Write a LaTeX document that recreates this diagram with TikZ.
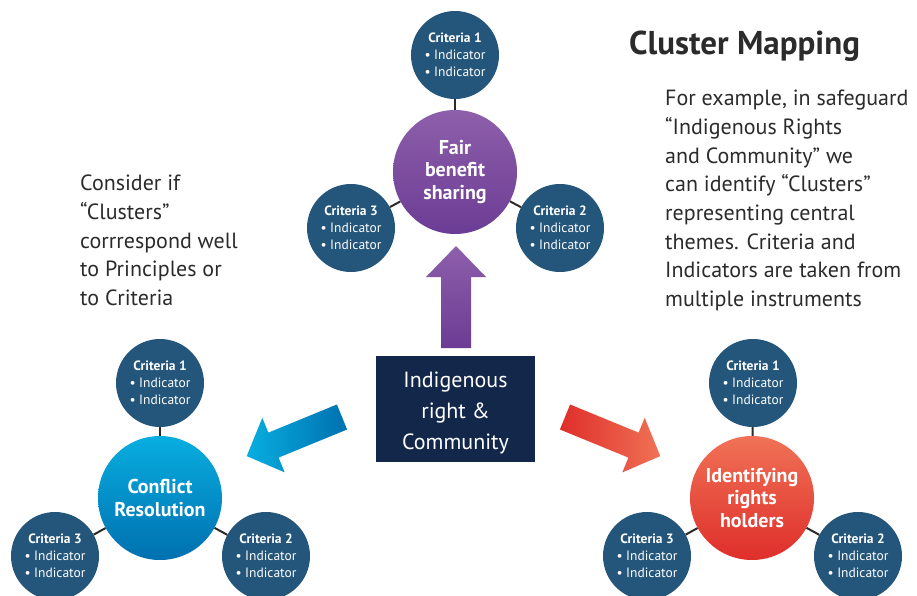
\documentclass[tikz,border=0pt]{standalone}
\usepackage{fontspec}
\setmainfont{PT Sans}
\begin{document}
\definecolor{critblue}{HTML}{24557A}
\definecolor{navybox}{HTML}{13274B}
\definecolor{purpletop}{HTML}{8E5FAA}
\definecolor{purplebot}{HTML}{6B3C94}
\definecolor{bluetop}{HTML}{08AEDF}
\definecolor{bluebot}{HTML}{0070B0}
\definecolor{redtop}{HTML}{F07256}
\definecolor{redbot}{HTML}{DF2E2A}
\definecolor{ink}{HTML}{2B2B2B}
\begin{tikzpicture}[x=1pt,y=-1pt,
  crit/.style={circle, fill=critblue, minimum size=88pt, inner sep=0pt,
    text=white, align=center, font=\fontsize{13.5}{17}\selectfont},
  hub/.style={circle, minimum size=124pt, inner sep=0pt, text=white,
    align=center, font=\fontsize{20}{22.5}\selectfont\bfseries},
  link/.style={draw=ink, line width=2pt},
  note/.style={anchor=north west, align=left, text=ink, inner sep=0pt,
    font=\fontsize{22}{28.7}\selectfont}]
\useasboundingbox (0,0) rectangle (917,596);

% cluster: fair benefit sharing
\node[hub, top color=purpletop, bottom color=purplebot] (fb) at (455,172) {Fair\\benefit\\sharing};
\node[crit] (fb1) at (455,55) {\textbf{Criteria 1}\\• Indicator\\• Indicator};
\node[crit] (fb3) at (351,228) {\textbf{Criteria 3}\\• Indicator\\• Indicator};
\node[crit] (fb2) at (560,228) {\textbf{Criteria 2}\\• Indicator\\• Indicator};
\draw[link] (fb) -- (fb1);
\draw[link] (fb) -- (fb2);
\draw[link] (fb) -- (fb3);

% cluster: conflict resolution
\node[hub, top color=bluetop, bottom color=bluebot] (cr) at (160,498) {Conflict\\Resolution};
\node[crit] (cr1) at (160,383) {\textbf{Criteria 1}\\• Indicator\\• Indicator};
\node[crit] (cr3) at (55,556) {\textbf{Criteria 3}\\• Indicator\\• Indicator};
\node[crit] (cr2) at (266,556) {\textbf{Criteria 2}\\• Indicator\\• Indicator};
\draw[link] (cr) -- (cr1);
\draw[link] (cr) -- (cr2);
\draw[link] (cr) -- (cr3);

% cluster: identifying rights holders
\node[hub, top color=redtop, bottom color=redbot] (ir) at (752,498) {Identifying\\rights\\holders};
\node[crit] (ir1) at (753,383) {\textbf{Criteria 1}\\• Indicator\\• Indicator};
\node[crit] (ir3) at (647,556) {\textbf{Criteria 3}\\• Indicator\\• Indicator};
\node[crit] (ir2) at (858,556) {\textbf{Criteria 2}\\• Indicator\\• Indicator};
\draw[link] (ir) -- (ir1);
\draw[link] (ir) -- (ir2);
\draw[link] (ir) -- (ir3);

% central safeguard box
\node[fill=navybox, minimum width=159pt, minimum height=106pt, inner sep=0pt] (core) at (455.5,409) {};
\node[text=white, align=center, inner sep=0pt, font=\fontsize{22}{31}\selectfont]
  (coretext) at ([yshift=-4pt]core.center) {Indigenous\\right \&\\Community};

% block arrows
\shade[top color=purpletop, bottom color=purplebot]
  (441,348) -- (441,277) -- (426,277) -- (456,246) -- (486,277) -- (471,277) -- (471,348) -- cycle;
\shade[left color=bluetop, right color=bluebot]
  (347.1,429.5) -- (278.6,457.6) -- (284.7,472.4) -- (246.7,456.1)
  -- (262.3,417.8) -- (268.4,432.6) -- (336.9,404.5) -- cycle;
\shade[left color=redbot, right color=redtop]
  (559.9,429.5) -- (628.4,457.6) -- (622.3,472.4) -- (660.3,456.1)
  -- (644.7,417.8) -- (638.6,432.6) -- (570.1,404.5) -- cycle;

% texts
\node[anchor=north west, inner sep=0pt, text=ink, font=\fontsize{33}{36}\selectfont\bfseries]
  (title) at (629,31) {Cluster Mapping};
\node[note] (example) at (665,90) {For example, in safeguard\\“Indigenous Rights\\and Community” we\\can identify “Clusters”\\representing central\\themes. Criteria and\\Indicators are taken from\\multiple instruments};
\node[note] (consider) at (80,175) {Consider if\\“Clusters”\\corrrespond well\\to Principles or\\to Criteria};
\end{tikzpicture}
\end{document}
